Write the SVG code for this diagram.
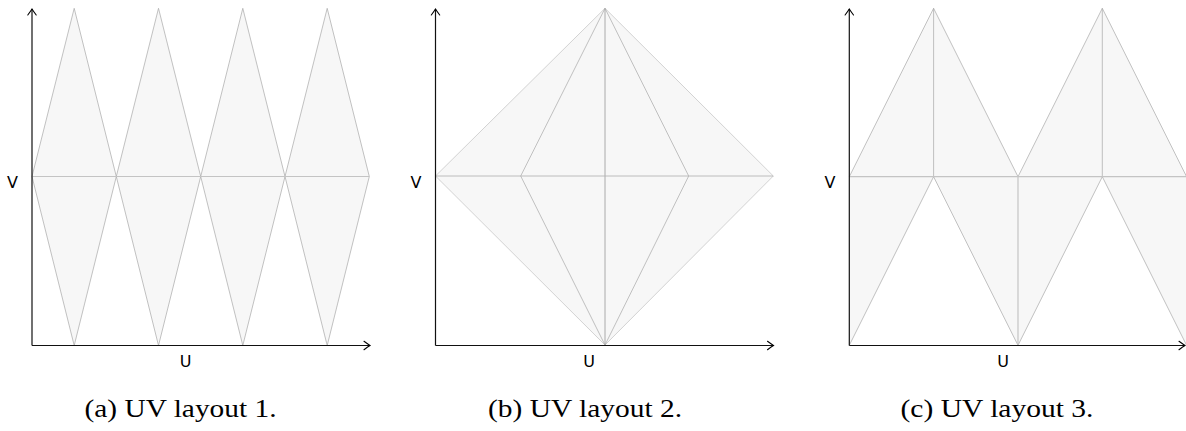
<svg xmlns="http://www.w3.org/2000/svg" width="1186" height="431" viewBox="0 0 1186 431">
<style>
.face{fill:#f7f7f7;stroke:none}
.e{stroke:#a8a8a8;stroke-width:0.7;fill:none}
.el{stroke:#c8c8c8;stroke-width:0.8;fill:none}
.mid{stroke:#c4c4c4;stroke-width:1.2;fill:none}
.axis{stroke:#111;stroke-width:1.2;fill:none;marker-end:url(#arr)}
.lab{font-family:"DejaVu Sans",sans-serif;font-size:16px;fill:#000;text-anchor:middle}
.cap{font-family:"Liberation Serif",serif;font-size:25px;fill:#000;text-anchor:middle}
</style>
<defs>
<marker id="arr" markerUnits="userSpaceOnUse" markerWidth="14" markerHeight="14" viewBox="-7 -7 14 14" refX="0" refY="0" orient="auto">
<path d="M-6,-4.2 Q-1.8,-1.1 0,0 Q-1.8,1.1 -6,4.2" fill="none" stroke="#000" stroke-width="1.1" stroke-linecap="round"/>
</marker>
</defs>

<g id="layout1">
<polygon class="face" points="32,176.5 74.2,8.3 116.3,176.5 74.2,345.5"/>
<polygon class="face" points="116.3,176.5 158.5,8.3 200.7,176.5 158.5,345.5"/>
<polygon class="face" points="200.7,176.5 242.8,8.3 285,176.5 242.8,345.5"/>
<polygon class="face" points="285,176.5 327.2,8.3 369.3,176.5 327.2,345.5"/>
<polygon class="e" points="32,176.5 74.2,8.3 116.3,176.5 74.2,345.5"/>
<polygon class="e" points="116.3,176.5 158.5,8.3 200.7,176.5 158.5,345.5"/>
<polygon class="e" points="200.7,176.5 242.8,8.3 285,176.5 242.8,345.5"/>
<polygon class="e" points="285,176.5 327.2,8.3 369.3,176.5 327.2,345.5"/>
<line class="mid" x1="32" y1="176.5" x2="369.3" y2="176.5"/>
</g>

<g id="layout2">
<polygon class="face" points="435.5,176 605,8.3 773.3,176 605,345"/>
<polygon class="el" points="435.5,176 605,8.3 773.3,176 605,345"/>
<polygon class="e" points="520.7,176 605,8.3 688.7,176 605,345"/>
<line class="e" x1="605" y1="8.3" x2="605" y2="345" style="stroke:#a0a0a0;stroke-width:0.9"/>
<line class="e" x1="435.5" y1="176" x2="773.3" y2="176" style="stroke:#b4b4b4;stroke-width:0.9"/>
</g>

<g id="layout3">
<polygon class="face" points="849.3,176.7 933.6,8.3 1018,176.7"/>
<polygon class="face" points="1018,176.7 1102.3,8.3 1186.6,176.7"/>
<polygon class="face" points="849.3,176.7 933.6,176.7 849.3,345.3"/>
<polygon class="face" points="933.6,176.7 1018,176.7 1018,345.3"/>
<polygon class="face" points="1018,176.7 1102.3,176.7 1018,345.3"/>
<polygon class="face" points="1102.3,176.7 1186.6,176.7 1186.6,345.3"/>
<polyline class="e" points="849.3,176.7 933.6,8.3 1018,176.7 1102.3,8.3 1186.6,176.7"/>
<line class="e" x1="933.6" y1="8.3" x2="933.6" y2="176.7"/>
<line class="e" x1="1102.3" y1="8.3" x2="1102.3" y2="176.7"/>
<polyline class="e" points="849.3,345.3 933.6,176.7 1018,345.3 1102.3,176.7 1186.6,345.3"/>
<line class="mid" x1="1018" y1="176.7" x2="1018" y2="345.3"/>
<line class="mid" x1="849.3" y1="176.7" x2="1186" y2="176.7"/>
</g>

<g id="connectors">
<line class="axis" x1="32" y1="345.5" x2="32" y2="9"/>
<line class="axis" x1="32" y1="345.5" x2="370" y2="345.5"/>
<line class="axis" x1="435.5" y1="345.5" x2="435.5" y2="9"/>
<line class="axis" x1="435.5" y1="345.5" x2="773.5" y2="345.5"/>
<line class="axis" x1="849.3" y1="345.5" x2="849.3" y2="9"/>
<line class="axis" x1="849.3" y1="345.5" x2="1185" y2="345.5"/>
</g>

<g id="labels">
<text class="lab" x="12.5" y="187.5">V</text>
<text class="lab" x="416" y="187.5">V</text>
<text class="lab" x="830" y="187.5">V</text>
<text class="lab" x="185.5" y="367">U</text>
<text class="lab" x="589" y="367">U</text>
<text class="lab" x="1003" y="367">U</text>
<text class="cap" x="180.5" y="417" textLength="192" lengthAdjust="spacingAndGlyphs">(a) UV layout 1.</text>
<text class="cap" x="585" y="417" textLength="194" lengthAdjust="spacingAndGlyphs">(b) UV layout 2.</text>
<text class="cap" x="997" y="417" textLength="193" lengthAdjust="spacingAndGlyphs">(c) UV layout 3.</text>
</g>
</svg>
